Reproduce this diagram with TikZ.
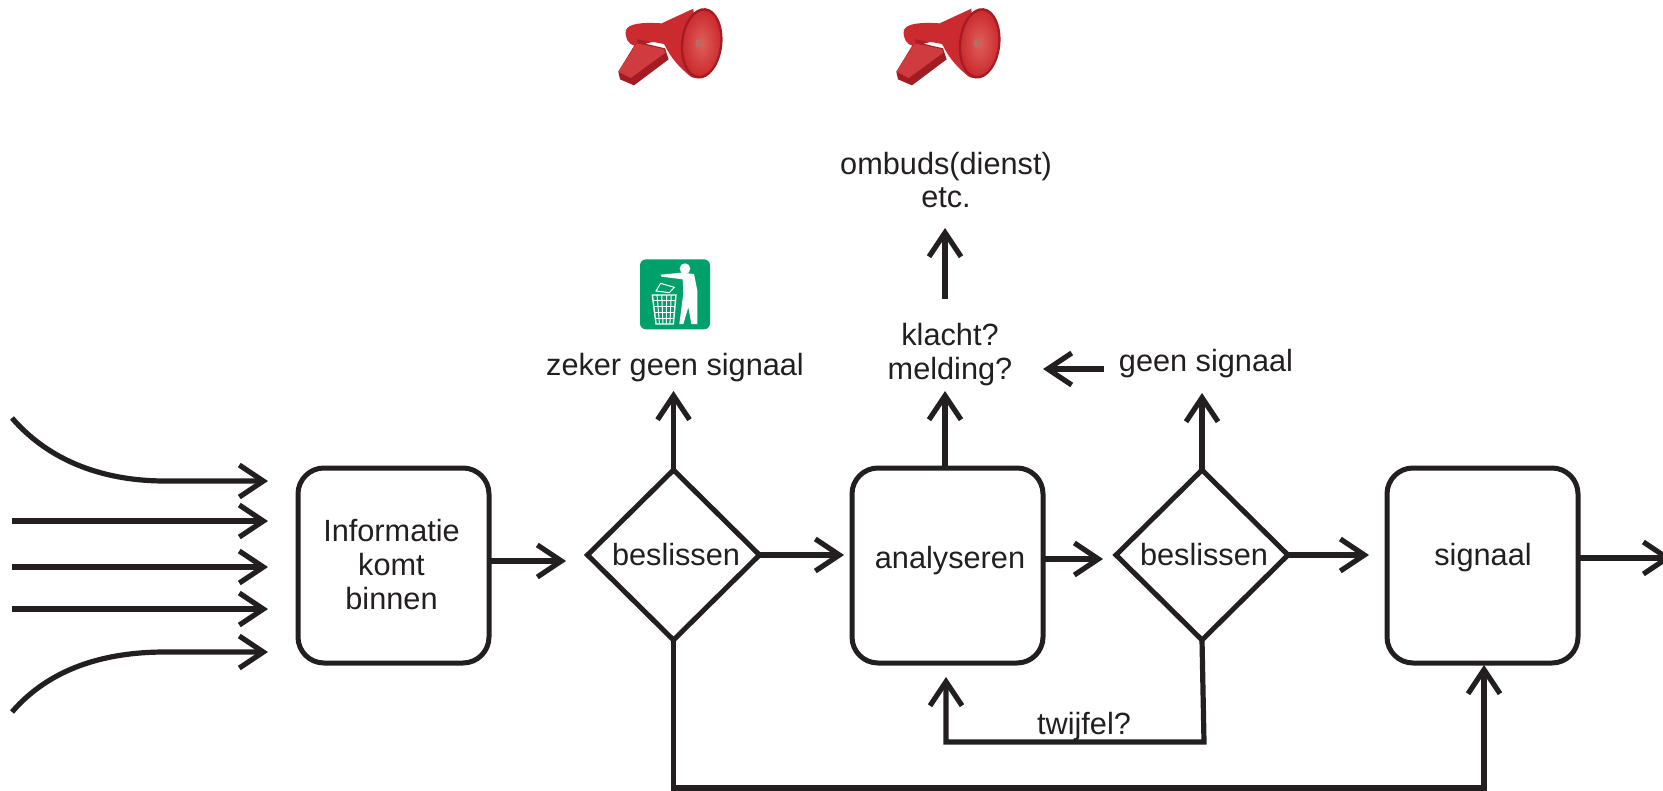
\documentclass[tikz,border=0pt]{standalone}
\usepackage{fontspec}
\setmainfont{Liberation Sans}
\usetikzlibrary{arrows.meta,shapes.geometric}
\definecolor{ink}{HTML}{231F20}
\definecolor{mred}{HTML}{CB2A2E}
\definecolor{mdark}{HTML}{A31C22}
\definecolor{mlight}{HTML}{DE5F58}
\definecolor{sgreen}{HTML}{00A06A}
\tikzset{
  x=0.5pt,y=-0.5pt,
  flow/.style={line width=2.6pt,draw=ink,-{Straight Barb[length=12pt,width=16pt,line width=2.6pt]}},
  procbox/.style={draw=ink,line width=2.5pt,rectangle,rounded corners=13pt,minimum width=95.5pt,minimum height=97.5pt,inner sep=0pt,outer sep=0pt},
  choice/.style={draw=ink,line width=2.5pt,diamond,aspect=1,minimum width=86pt,minimum height=85pt,inner sep=0pt,outer sep=0pt},
  lbl/.style={text=ink,align=center,inner sep=0pt,font=\fontsize{15.35}{16.6}\selectfont},
  baselbl/.style={lbl,anchor=base},
  megaphone/.pic={
    \begin{scope}[scale=1/3]
      % handle
      \fill[mdark] (85,215) -- (140,125) -- (225,145) -- (236,178) -- (132,256) -- (90,238) -- cycle;
      \fill[mred!92!white] (85,215) -- (140,130) -- (222,147) -- (226,158) -- (122,234) -- cycle;
      % barrel and rear of the horn
      \fill[mred] (108,90) .. controls (116,72) and (150,66) .. (215,70) -- (310,26) -- (325,235) -- (305,232)
        .. controls (270,205) and (245,175) .. (232,150) -- (222,132) -- (190,126) -- (145,128) -- (135,138)
        .. controls (116,134) and (103,114) .. (108,90) -- cycle;
      \fill[mdark!80!mred] (140,118) -- (185,126) -- (165,132) -- (144,130) -- cycle;
      % mouth of the horn
      \fill[mdark,rotate around={-6:(335,130)}] (335,130) ellipse [x radius=62,y radius=106];
      \shade[inner color=mlight,outer color=mred,rotate around={-6:(335,130)}] (335,130) ellipse [x radius=55,y radius=98];
      \fill[mlight!60!gray] (325,130) ellipse [x radius=9,y radius=13];
    \end{scope}
  }
}
\begin{document}
\begin{tikzpicture}
\clip (0,0) rectangle (1663,791);
\fill[white] (0,0) rectangle (1663,791);

% main flow nodes
\node[procbox] (info) at (393.5,565.5) {};
\node[choice] (d1) at (673.5,555) {};
\node[procbox] (ana) at (947.5,565.5) {};
\node[procbox] (sig) at (1482.5,565.5) {};
\node[choice] (d2) at (1202,555) {};

% labels
\node[baselbl] (info1) at (391.5,541) {Informatie};
\node[baselbl] (info2) at (391.5,575) {komt};
\node[baselbl] (info3) at (391.5,609) {binnen};
\node[baselbl] (t1lbl) at (676,565) {beslissen};
\node[baselbl] (analbl) at (950,568) {analyseren};
\node[baselbl] (t2lbl) at (1204,565) {beslissen};
\node[baselbl] (siglbl) at (1483,565) {signaal};
\node[lbl] (zeker) at (675,368) {zeker geen signaal};
\node[lbl] (klacht) at (950,354.5) {klacht?\\melding?};
\node[lbl] (geen) at (1206,364) {geen signaal};
\node[lbl] (omb) at (946,180) {ombuds(dienst)\\etc.};
\node[lbl] (twij) at (1084,727) {twijfel?};

% free ends
\coordinate (l1s) at (12,418); \coordinate (l1m) at (165,481); \coordinate (l1e) at (268,481);
\coordinate (l2s) at (12,521); \coordinate (l2e) at (268,521);
\coordinate (l3s) at (12,567); \coordinate (l3e) at (268,567);
\coordinate (l4s) at (12,609); \coordinate (l4e) at (268,609);
\coordinate (l5s) at (12,712); \coordinate (l5m) at (165,652); \coordinate (l5e) at (268,652);
\coordinate (a1s) at (489,561); \coordinate (a1e) at (566,561);
\coordinate (a2e) at (844,555);
\coordinate (a3s) at (1043,559); \coordinate (a3e) at (1103,559);
\coordinate (a4e) at (1369,555);
\coordinate (a5s) at (1578,558); \coordinate (a5e) at (1672,558);
\coordinate (u1e) at (673.5,391);
\coordinate (u2s) at (945,468); \coordinate (u2e) at (945,391);
\coordinate (u3e) at (1202,393);
\coordinate (o1s) at (945,299); \coordinate (o1e) at (945,228);
\coordinate (g1s) at (1104,369); \coordinate (g1e) at (1043,369);
\coordinate (t1) at (1204,742); \coordinate (t2) at (946,742); \coordinate (t3) at (946,677);
\coordinate (b1) at (673.5,788); \coordinate (b2) at (1484,788); \coordinate (b3) at (1484,665);

% incoming arrows
\draw[flow] (l1s) .. controls (50,462) and (105,481) .. (l1m) -- (l1e);
\draw[flow] (l2s) -- (l2e);
\draw[flow] (l3s) -- (l3e);
\draw[flow] (l4s) -- (l4e);
\draw[flow] (l5s) .. controls (50,668) and (105,652) .. (l5m) -- (l5e);

% main arrows
\draw[flow] (a1s) -- (a1e);
\draw[flow] (d1.east) -- (a2e);
\draw[flow] (a3s) -- (a3e);
\draw[flow] (d2.east) -- (a4e);
\draw[flow] (a5s) -- (a5e);
\draw[flow] (d1.north) -- (u1e);
\draw[flow] (u2s) -- (u2e);
\draw[flow] (d2.north) -- (u3e);
\draw[flow] (o1s) -- (o1e);
\draw[flow] (g1s) -- (g1e);
\draw[flow,line join=miter] (d2.south) -- (t1) -- (t2) -- (t3);
\draw[flow,line join=miter] (d1.south) -- (b1) -- (b2) -- (b3);

% megaphones
\pic at (590,0) {megaphone};
\pic at (868,0) {megaphone};

% litter sign
\begin{scope}[shift={(620,250)},scale=1/3]
  \fill[sgreen,rounded corners=3pt] (60,28) rectangle (270,238);
  \fill[white] (195,56) ellipse [x radius=16,y radius=16];
  \fill[white] (122,74) -- (185,68) -- (222,72) -- (232,122) -- (232,222) -- (214,222) -- (205,172) -- (190,222) -- (178,222) -- (190,130) -- (188,88) -- (124,80) -- cycle;
  \draw[white,line width=0.5pt] (108,123) -- (122,100) -- (163,112) -- (148,128) -- cycle;
  \draw[white,line width=0.7pt] (97,135) -- (168,135) -- (160,222) -- (108,222) -- cycle;
  \foreach \t in {0.2,0.4,0.6,0.8}{
    \draw[white,line width=0.5pt] ({97+71*\t},135) -- ({108+52*\t},222);
    \draw[white,line width=0.5pt] ({97+11*\t},{135+87*\t}) -- ({168-8*\t},{135+87*\t});
  }
\end{scope}
\end{tikzpicture}
\end{document}
